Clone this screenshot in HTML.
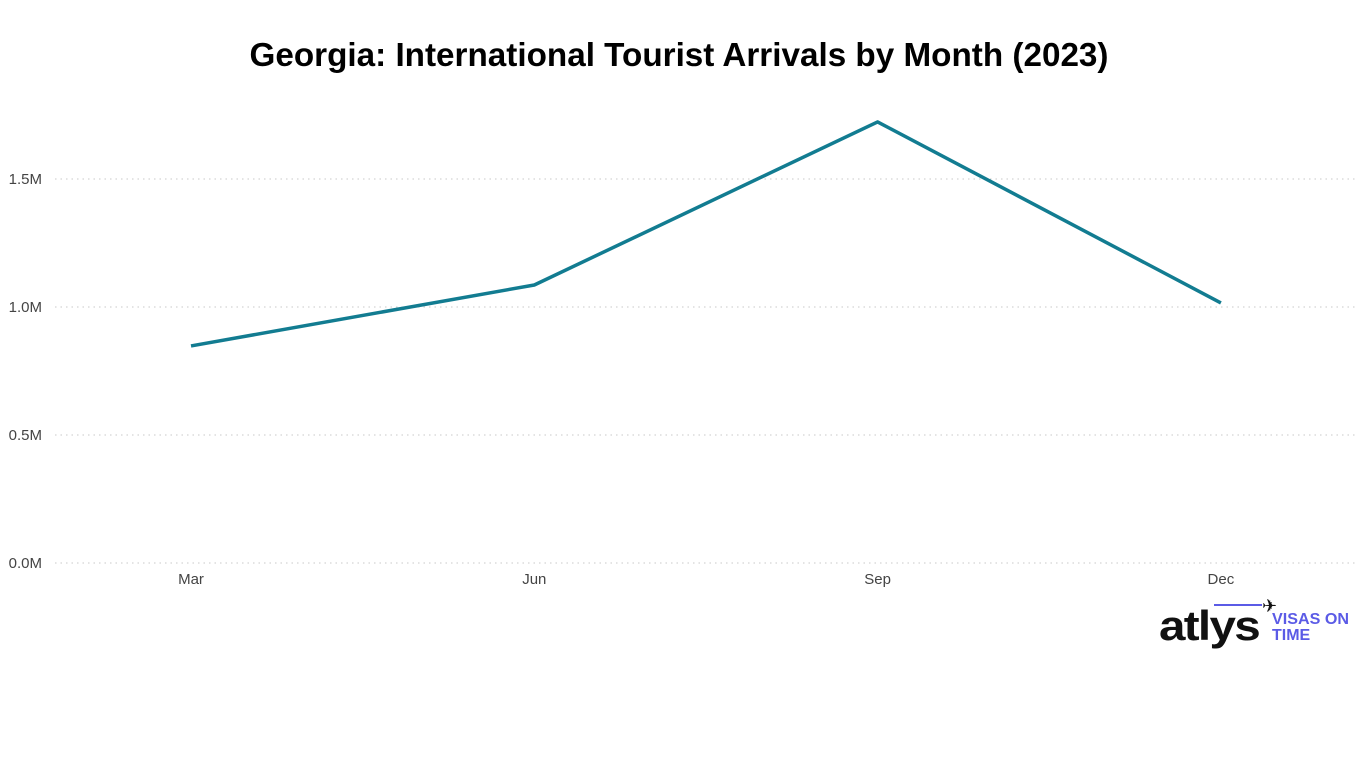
<!DOCTYPE html>
<html><head><meta charset="utf-8"><style>
body{margin:0;width:1366px;height:768px;background:#fff;overflow:hidden;font-family:"Liberation Sans",sans-serif}
</style></head><body>
<svg id="chart" width="1366" height="768" viewBox="0 0 1366 768">
<text x="679" y="66" text-anchor="middle" font-size="33" font-weight="bold" fill="#000" textLength="859" lengthAdjust="spacingAndGlyphs">Georgia: International Tourist Arrivals by Month (2023)</text>
<g id="grid"></g><g id="yl"></g><g id="xl"></g>
<path id="line" fill="none" stroke="#127c91" stroke-width="3.5" stroke-linejoin="round"/>
<g>
<text x="1159" y="640" font-size="42" font-weight="bold" fill="#111" letter-spacing="-1.5" textLength="100" lengthAdjust="spacingAndGlyphs">atlys</text>
<line x1="1214" y1="605" x2="1262" y2="605" stroke="#5b5be6" stroke-width="2"/>
<text x="1262" y="612" font-size="18" fill="#111">✈</text>
<text x="1272" y="624" font-size="16" font-weight="bold" fill="#5b5be6" textLength="77" lengthAdjust="spacingAndGlyphs">VISAS ON</text>
<text x="1272" y="640" font-size="16" font-weight="bold" fill="#5b5be6">TIME</text>
</g>
</svg>
<script>
const categories=["Mar","Jun","Sep","Dec"];
const arrivals=[0.848,1.086,1.723,1.016];
const yTicks=[0,0.5,1.0,1.5];
const yTickLabels=["0.0M","0.5M","1.0M","1.5M"];
const NS="http://www.w3.org/2000/svg";
const y=v=>563-v*256;
const x=i=>191+i*343.3;
const grid=document.getElementById('grid'),yl=document.getElementById('yl'),xl=document.getElementById('xl');
yTicks.forEach((t,i)=>{
 const l=document.createElementNS(NS,'line');
 
 
 l.setAttribute('x1',55);l.setAttribute('x2',1356);l.setAttribute('y1',y(t));l.setAttribute('y2',y(t));
 l.setAttribute('stroke','#c8c8c8');l.setAttribute('stroke-dasharray','1.5 4');
 grid.appendChild(l);
 const tx=document.createElementNS(NS,'text');
 
 
 tx.setAttribute('x',42);tx.setAttribute('y',y(t)+5);tx.setAttribute('text-anchor','end');
 tx.setAttribute('font-size','15');tx.setAttribute('fill','#444');tx.textContent=yTickLabels[i];
 yl.appendChild(tx);
});
categories.forEach((c,i)=>{
 const tx=document.createElementNS(NS,'text');
 
 
 tx.setAttribute('x',x(i));tx.setAttribute('y',584);tx.setAttribute('text-anchor','middle');
 tx.setAttribute('font-size','15');tx.setAttribute('fill','#444');tx.textContent=c;
 xl.appendChild(tx);
});
document.getElementById('line').setAttribute('d',arrivals.map((v,i)=>(i?'L':'M')+x(i)+' '+y(v)).join(' '));
</script>
</body></html>
